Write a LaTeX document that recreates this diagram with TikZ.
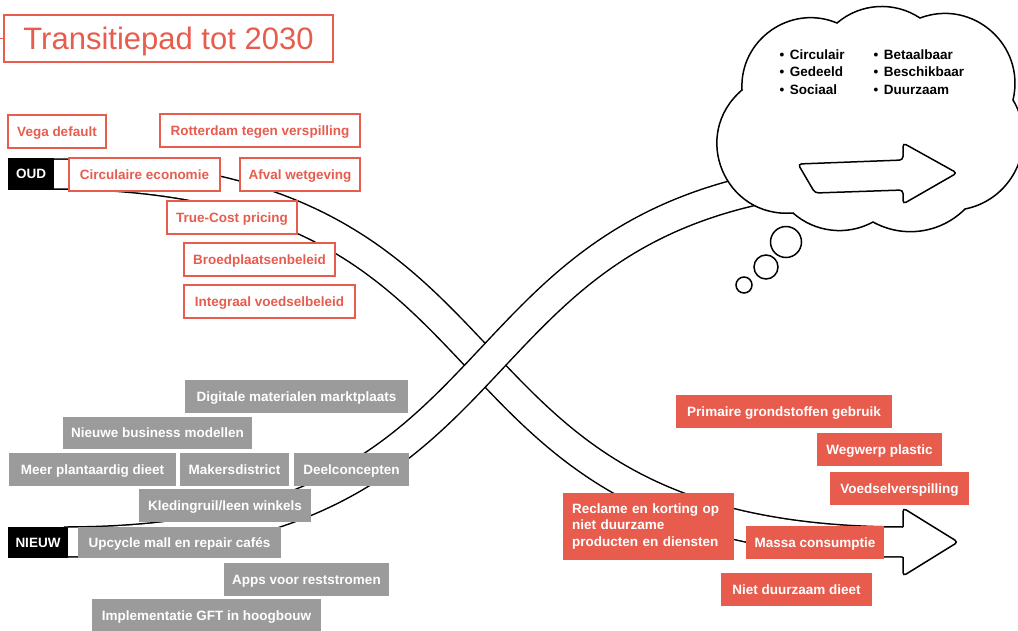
\documentclass[tikz,border=0pt]{standalone}
\usepackage{fontspec}
\setmainfont{Liberation Sans}
\definecolor{cred}{RGB}{232,92,78}
\definecolor{cgrey}{RGB}{155,155,155}
\begin{document}
\begin{tikzpicture}[x=1pt,y=-1pt,
  lblfont/.style={font=\fontsize{13.5}{16.5}\selectfont\bfseries},
  lbl/.style={lblfont, inner sep=0pt, minimum height=33pt, text height=12.7pt, text depth=3pt},
  redbox/.style={lbl, draw=cred, line width=1.4pt, fill=white, text=cred},
  redfill/.style={lbl, fill=cred, text=white},
  greybox/.style={lbl, fill=cgrey, text=white},
  blackbox/.style={lbl, fill=black, text=white},
  band/.style={draw=black, line width=1.5pt, double=white, double distance=28.5pt},
  outl/.style={draw=black, line width=1.5pt, fill=white},
  cloudtxt/.style={lblfont, inner sep=0pt, anchor=base west},
  bubble/.style={outl, circle, inner sep=0pt},
]
\useasboundingbox (0,0) rectangle (1018,630);
\fill[white] (0,0) rectangle (1018,630);

% bands
\coordinate (oudS) at (50,174);
\coordinate (oudE) at (905,542);
\coordinate (nieS) at (64,542);
\coordinate (nieE) at (917,174);
\draw[band] (oudS) .. controls (560,174) and (397,542) .. (oudE);
\draw[band] (nieS) .. controls (574,542) and (411,174) .. (nieE);

% cloud
\draw[outl] (793,213) to[bend left=72, looseness=1.32] (742,90)
  to[bend left=58, looseness=1.11] (837,23)
  to[bend left=37, looseness=0.95] (920,18)
  to[bend left=62, looseness=1.16] (1013,100)
  to[bend left=55, looseness=1.08] (965,209)
  to[bend left=37, looseness=0.95] (873,222)
  to[bend left=35, looseness=0.94] (793,213) -- cycle;
\node[bubble, minimum size=31pt] (th1) at (786,242) {};
\node[bubble, minimum size=24pt] (th2) at (766,267) {};
\node[bubble, minimum size=16pt] (th3) at (744,285) {};

% arrow in cloud
\draw[outl, rounded corners=3.5pt] (798,164) -- (903,160) -- (903,143) -- (957,173) -- (903,204) -- (903,190) -- (815,193) -- cycle;

% big arrow head
\filldraw[fill=white, draw=black, line width=1.5pt, rounded corners=3.5pt] (903,527) -- (903,508) -- (958,542) -- (903,576) -- (903,557);

% cloud text
\node[cloudtxt] (cl1) at (779.5,59.3) {•\hspace{5.5pt}Circulair};
\node[cloudtxt] (cl2) at (779.5,76.8) {•\hspace{5.5pt}Gedeeld};
\node[cloudtxt] (cl3) at (779.5,94.3) {•\hspace{5.5pt}Sociaal};
\node[cloudtxt] (cl4) at (873.5,59.3) {•\hspace{5.5pt}Betaalbaar};
\node[cloudtxt] (cl5) at (873.5,76.8) {•\hspace{5.5pt}Beschikbaar};
\node[cloudtxt] (cl6) at (873.5,94.3) {•\hspace{5.5pt}Duurzaam};

% title
\node[draw=cred, line width=1.4pt, text=cred, font=\fontsize{31}{36}\selectfont, minimum width=329pt, minimum height=47pt, inner sep=0pt, text height=25.2pt, text depth=3pt] (title) at (168.5,38.5) {Transitiepad tot 2030};
\coordinate (tl) at (0,38.5);
\draw[cred, line width=1.4pt] (tl) -- (title.west);

% old (red outlined)
\node[blackbox, minimum width=46pt, minimum height=32pt] (oud) at (31,174) {OUD};
\node[redbox, minimum width=98pt] (vega) at (57,131.5) {Vega default};
\node[redbox, minimum width=200pt] (rott) at (260,130.5) {Rotterdam tegen verspilling};
\node[redbox, minimum width=151pt] (circ) at (144.5,174.5) {Circulaire economie};
\node[redbox, minimum width=120pt] (afval) at (300,174.5) {Afval wetgeving};
\node[redbox, minimum width=130pt] (truec) at (232,217.5) {True-Cost pricing};
\node[redbox, minimum width=151pt] (broed) at (259.5,259.5) {Broedplaatsenbeleid};
\node[redbox, minimum width=171pt] (integ) at (269.5,301.5) {Integraal voedselbeleid};

% new (grey)
\node[blackbox, minimum width=60pt, minimum height=31pt] (nieuw) at (38,542.5) {NIEUW};
\node[greybox, minimum width=223pt] (digi) at (296.5,396.5) {Digitale materialen marktplaats};
\node[greybox, minimum width=189pt, minimum height=32pt] (busi) at (157.5,433) {Nieuwe business modellen};
\node[greybox, minimum width=167pt] (meer) at (92.5,469.5) {Meer plantaardig dieet};
\node[greybox, minimum width=109pt] (maker) at (234.5,469.5) {Makersdistrict};
\node[greybox, minimum width=115pt] (deel) at (351.5,469.5) {Deelconcepten};
\node[greybox, minimum width=172pt] (kled) at (225,505.5) {Kledingruil/leen winkels};
\node[greybox, minimum width=203pt, minimum height=31pt] (upcy) at (179.5,542.5) {Upcycle mall en repair cafés};
\node[greybox, minimum width=165pt] (apps) at (306.5,579.5) {Apps voor reststromen};
\node[greybox, minimum width=229pt] (impl) at (206.5,615.5) {Implementatie GFT in hoogbouw};

% red filled
\node[redfill, minimum width=216pt] (prim) at (784,411.5) {Primaire grondstoffen gebruik};
\node[redfill, minimum width=125pt] (wegw) at (879.5,449.5) {Wegwerp plastic};
\node[redfill, minimum width=139pt] (voed) at (899.5,488.5) {Voedselverspilling};
\node[lblfont, fill=cred, text=white, inner xsep=8.5pt, inner ysep=0pt, text width=153pt, align=left, minimum height=67pt, minimum width=171pt] (recl) at (648.5,526.5) {Reclame en korting op\\niet duurzame\\producten en diensten};
\node[redfill, minimum width=138pt] (massa) at (815,542.5) {Massa consumptie};
\node[redfill, minimum width=151pt] (niet) at (796.5,589.5) {Niet duurzaam dieet};
\end{tikzpicture}
\end{document}
